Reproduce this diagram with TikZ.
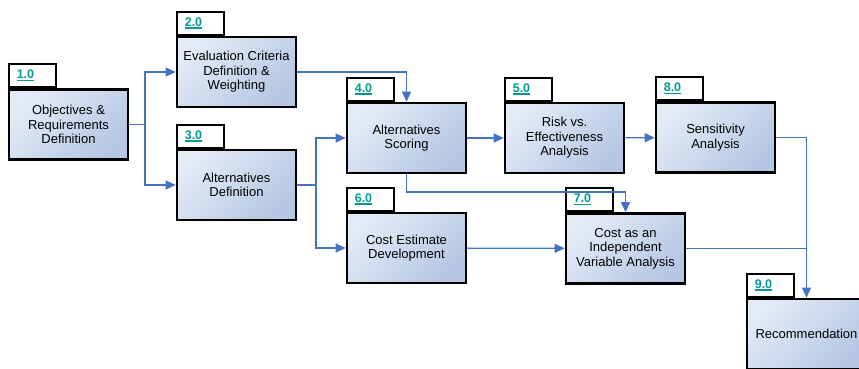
\documentclass[tikz,border=0pt]{standalone}
\usepackage{fontspec}
\setmainfont{Liberation Sans}
\usepackage{xcolor}
\usetikzlibrary{positioning, arrows.meta}
\definecolor{boxlight}{rgb}{0.89, 0.92, 0.97}
\definecolor{boxdark}{rgb}{0.71, 0.78, 0.89}
\definecolor{linkblue}{rgb}{0.27, 0.45, 0.77}
\definecolor{numteal}{rgb}{0.0, 0.60, 0.58}
\newcommand{\tabnum}[1]{\textcolor{numteal}{\bfseries\fontsize{12.5}{13}\selectfont
\setbox0\hbox{#1}\rlap{\rule[-2.6pt]{\wd0}{1.3pt}}\box0}}
\tikzstyle{task}=[rectangle, line width=2.6pt, draw=black,
top color=boxlight, bottom color=boxdark, shading angle=45,
minimum width=119, minimum height=70, align=center,
font=\fontsize{13}{14.5}\selectfont]
\tikzstyle{tab} =[rectangle, line width=2.2pt, draw=black, fill=white,
anchor=south west, minimum height=23, text width=31pt,
inner xsep=8pt, align=left]
\tikzstyle{link}=[linkblue, line width=1.3pt]
\tikzstyle{arr} =[link, -{Triangle[length=10pt,width=9pt]}]

\begin{document}
\begin{tikzpicture}[x=1pt, y=-1pt]
\useasboundingbox (0,0) rectangle (859,368);
\clip (0,0) rectangle (859,368);

\node [task] (1) at (68.5, 124.5) {Objectives \&\\Requirements\\Definition};
\node [task] (2) at (236.5, 72) {Evaluation Criteria\\Definition \&\\Weighting};
\node [task] (3) at (236.5, 185) {Alternatives\\Definition};
\node [task] (4) at (406.5, 138) {Alternatives\\Scoring};
\node [task] (5) at (564.5, 138) {Risk vs.\\Effectiveness\\Analysis};
\node [task] (6) at (406.5, 248) {Cost Estimate\\Development};
\node [task] (7) at (625.5, 248.5) {Cost as an\\Independent\\Variable Analysis};
\node [task] (8) at (715.5, 137.5) {Sensitivity\\Analysis};
\node [task] (9) at (806.5, 334) {Recommendation};

\node [tab] (1a) at (1.north west) {\tabnum{1.0}};
\node [tab] (2a) at (2.north west) {\tabnum{2.0}};
\node [tab] (3a) at (3.north west) {\tabnum{3.0}};
\node [tab] (4a) at (4.north west) {\tabnum{4.0}};
\node [tab] (5a) at (5.north west) {\tabnum{5.0}};
\node [tab] (6a) at (6.north west) {\tabnum{6.0}};
\node [tab] (7a) at (7.north west) {\tabnum{7.0}};
\node [tab] (8a) at (8.north west) {\tabnum{8.0}};
\node [tab] (9a) at (9.north west) {\tabnum{9.0}};

\coordinate (s1) at (145, 124.5);
\coordinate (s3) at (316, 185);
\coordinate (s4) at (406.5, 192);
\coordinate (s7) at (806.5, 248.5);

\draw [link] (1) -- (s1);
\draw [arr] (s1) |- (2);
\draw [arr] (s1) |- (3);

\draw [arr] (2) -| (4);

\draw [link] (3) -- (s3);
\draw [arr] (s3) |- (4);
\draw [arr] (s3) |- (6);

\draw [arr] (4) -- (5);
\draw [arr] (4) -- (s4) -| (7);
\draw [arr] (6) -- (7);
\draw [arr] (5) -- (8);
\draw [arr] (8) -| (9);
\draw [link] (7) -- (s7);

\end{tikzpicture}
\end{document}
